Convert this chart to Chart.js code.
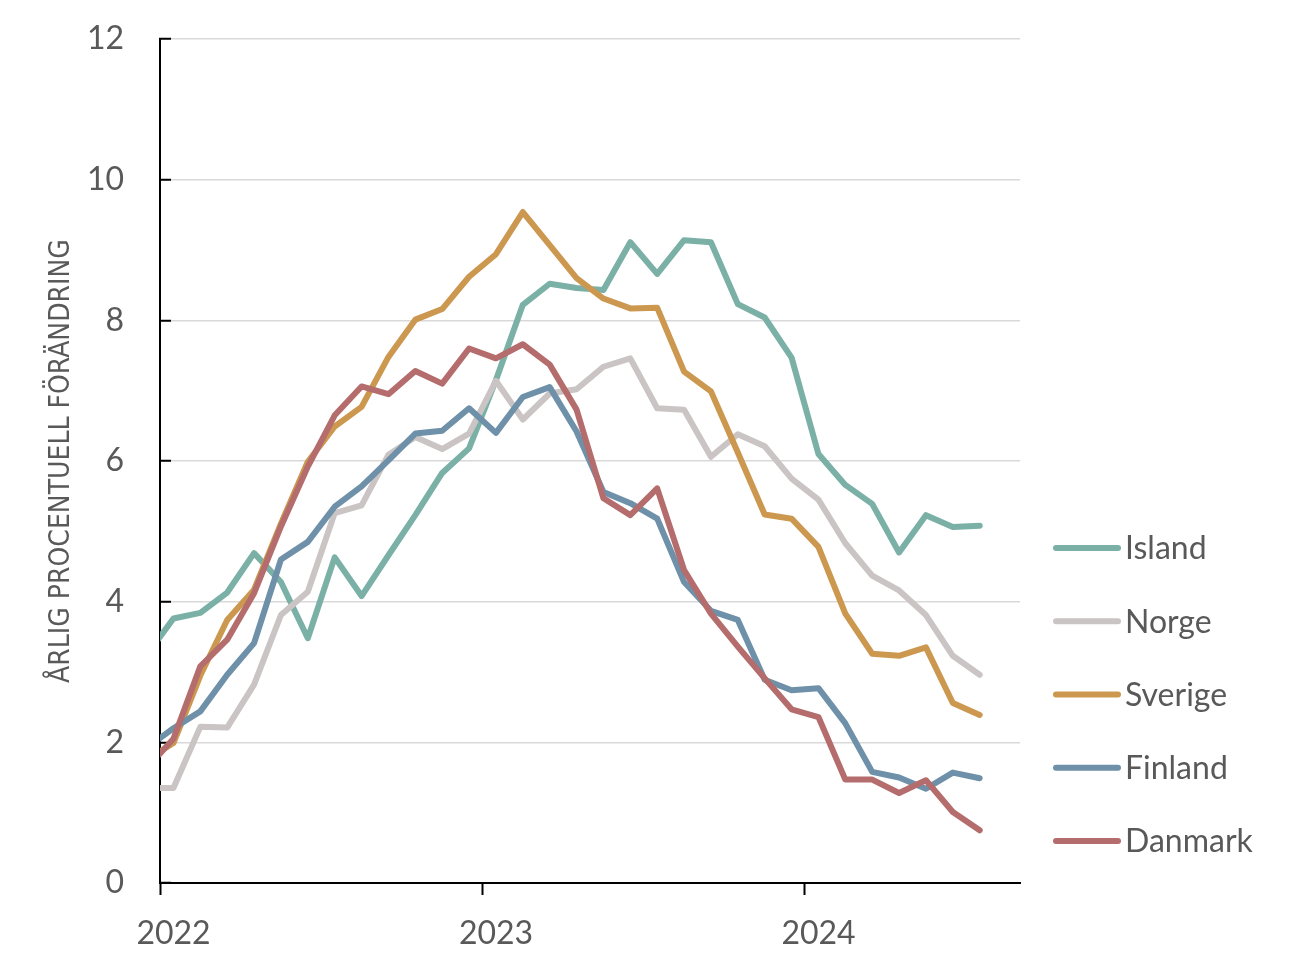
<!DOCTYPE html>
<html>
<head>
<meta charset="utf-8">
<script src="https://cdn.jsdelivr.net/npm/chart.js@4.4.1/dist/chart.umd.min.js"></script>
<style>
  html, body { margin: 0; padding: 0; background: #ffffff; }
</style>
</head>
<body>
<canvas id="inflChart" width="1296" height="974"></canvas>
<script>
// monthly observations, Dec 2021 - Jul 2024
const months = [
  '2021-12',
  '2022-01', '2022-02', '2022-03', '2022-04', '2022-05', '2022-06',
  '2022-07', '2022-08', '2022-09', '2022-10', '2022-11', '2022-12',
  '2023-01', '2023-02', '2023-03', '2023-04', '2023-05', '2023-06',
  '2023-07', '2023-08', '2023-09', '2023-10', '2023-11', '2023-12',
  '2024-01', '2024-02', '2024-03', '2024-04', '2024-05', '2024-06',
  '2024-07'
];

const island = [3.24,
  3.76, 3.84, 4.13, 4.69, 4.28, 3.48, 4.63, 4.08, 4.66, 5.23, 5.83, 6.18,
  7.15, 8.22, 8.52, 8.46, 8.43, 9.11, 8.66, 9.14, 9.11, 8.23, 8.04, 7.47,
  6.10, 5.66, 5.39, 4.70, 5.23, 5.06, 5.08];
const norge = [1.35,
  1.35, 2.22, 2.21, 2.82, 3.81, 4.14, 5.26, 5.37, 6.09, 6.34, 6.17, 6.39,
  7.14, 6.59, 6.96, 7.02, 7.34, 7.46, 6.75, 6.73, 6.06, 6.38, 6.21, 5.75,
  5.45, 4.83, 4.37, 4.16, 3.81, 3.23, 2.96];
const sverige = [1.75,
  1.99, 2.95, 3.74, 4.17, 5.11, 5.99, 6.49, 6.77, 7.48, 8.01, 8.16, 8.62,
  8.94, 9.54, 9.07, 8.60, 8.31, 8.17, 8.18, 7.27, 6.99, 6.12, 5.24, 5.18,
  4.78, 3.83, 3.26, 3.23, 3.35, 2.56, 2.39];
const finland = [1.92,
  2.20, 2.44, 2.96, 3.41, 4.60, 4.85, 5.35, 5.64, 6.01, 6.39, 6.43, 6.75,
  6.40, 6.91, 7.05, 6.42, 5.56, 5.40, 5.18, 4.28, 3.87, 3.74, 2.89, 2.74,
  2.77, 2.27, 1.58, 1.50, 1.34, 1.57, 1.49];
const danmark = [1.63,
  2.05, 3.08, 3.46, 4.12, 5.07, 5.92, 6.65, 7.06, 6.95, 7.28, 7.10, 7.60,
  7.46, 7.66, 7.37, 6.73, 5.47, 5.23, 5.61, 4.45, 3.83, 3.36, 2.91, 2.47,
  2.36, 1.47, 1.47, 1.28, 1.46, 1.01, 0.75];

const yearTicks = [2022, 2023, 2024];
const yTicks = [0, 2, 4, 6, 8, 10, 12];

const textGrey = '#595959';
const tickFont = { family: 'Lato', size: 32 };

// mid-month position as decimal year
function toYear(m) {
  const parts = m.split('-').map(Number);
  return parts[0] + (parts[1] - 0.5) / 12;
}
function points(vals) {
  return vals.map((v, i) => ({ x: toYear(months[i]), y: v }));
}

function series(label, vals, color, order) {
  return {
    label: label,
    data: points(vals),
    borderColor: color,
    backgroundColor: color,
    borderWidth: 6,
    borderJoinStyle: 'round',
    borderCapStyle: 'round',
    pointRadius: 0,
    tension: 0,
    clip: 0,
    order: order
  };
}

// legend to the right of the plot, bottom aligned like the original
const sideLegend = {
  id: 'sideLegend',
  afterDraw(chart) {
    const ctx = chart.ctx;
    const area = chart.chartArea;
    const step = 73.25;
    const x0 = area.right + 36;
    const n = chart.data.datasets.length;
    ctx.save();
    ctx.font = '32px Lato';
    ctx.fillStyle = textGrey;
    ctx.textAlign = 'left';
    ctx.textBaseline = 'middle';
    chart.data.datasets.forEach((ds, i) => {
      const y = area.bottom - 42 - (n - 1 - i) * step;
      ctx.strokeStyle = ds.borderColor;
      ctx.lineWidth = ds.borderWidth;
      ctx.lineCap = 'round';
      ctx.beginPath();
      ctx.moveTo(x0, y);
      ctx.lineTo(x0 + 62, y);
      ctx.stroke();
      ctx.fillText(ds.label, x0 + 69, y + 1);
    });
    ctx.restore();
  }
};

const config = {
  type: 'line',
  data: {
    datasets: [
      series('Island', island, '#7AB0A6', 5),
      series('Norge', norge, '#CAC4C4', 4),
      series('Sverige', sverige, '#CC9850', 3),
      series('Finland', finland, '#6E90A8', 2),
      series('Danmark', danmark, '#B46C6C', 1)
    ]
  },
  options: {
    responsive: false,
    animation: false,
    events: [],
    layout: {
      padding: { top: 39, right: 276, bottom: 0, left: 0 }
    },
    plugins: {
      tooltip: { enabled: false },
      legend: { display: false }
    },
    scales: {
      x: {
        type: 'linear',
        min: 2022,
        max: 2024 + 8 / 12,
        afterBuildTicks: s => { s.ticks = yearTicks.map(v => ({ value: v })); },
        afterFit: s => { s.height = 91; },
        ticks: {
          callback: v => String(v),
          labelOffset: 13.5,
          padding: 19,
          maxRotation: 0,
          autoSkip: false,
          color: textGrey,
          font: tickFont
        },
        grid: {
          drawOnChartArea: false,
          drawTicks: true,
          tickLength: 12,
          tickColor: '#000000',
          tickWidth: 2
        },
        border: { color: '#000000', width: 2 }
      },
      y: {
        min: 0,
        max: 12,
        afterBuildTicks: s => { s.ticks = yTicks.map(v => ({ value: v })); },
        afterFit: s => {
          s.width = 160;
          s.paddingTop = 0;
          s.paddingBottom = 0;
        },
        ticks: {
          padding: 47,
          color: textGrey,
          font: tickFont
        },
        grid: {
          color: c => (c.tick && c.tick.value === 0) ? 'rgba(0,0,0,0)' : '#D9D9D9',
          lineWidth: 1.5,
          tickLength: -11,
          tickColor: '#000000',
          tickWidth: 2
        },
        border: { color: '#000000', width: 2 },
        title: {
          display: true,
          text: 'ÅRLIG PROCENTUELL FÖRÄNDRING',
          color: textGrey,
          font: { family: '"Liberation Sans Narrow", "DejaVu Sans Condensed", sans-serif', size: 28 },
          padding: { top: 45, bottom: 0 }
        }
      }
    }
  },
  plugins: [sideLegend]
};

const inflChart = new Chart(document.getElementById('inflChart'), config);
</script>
</body>
</html>
